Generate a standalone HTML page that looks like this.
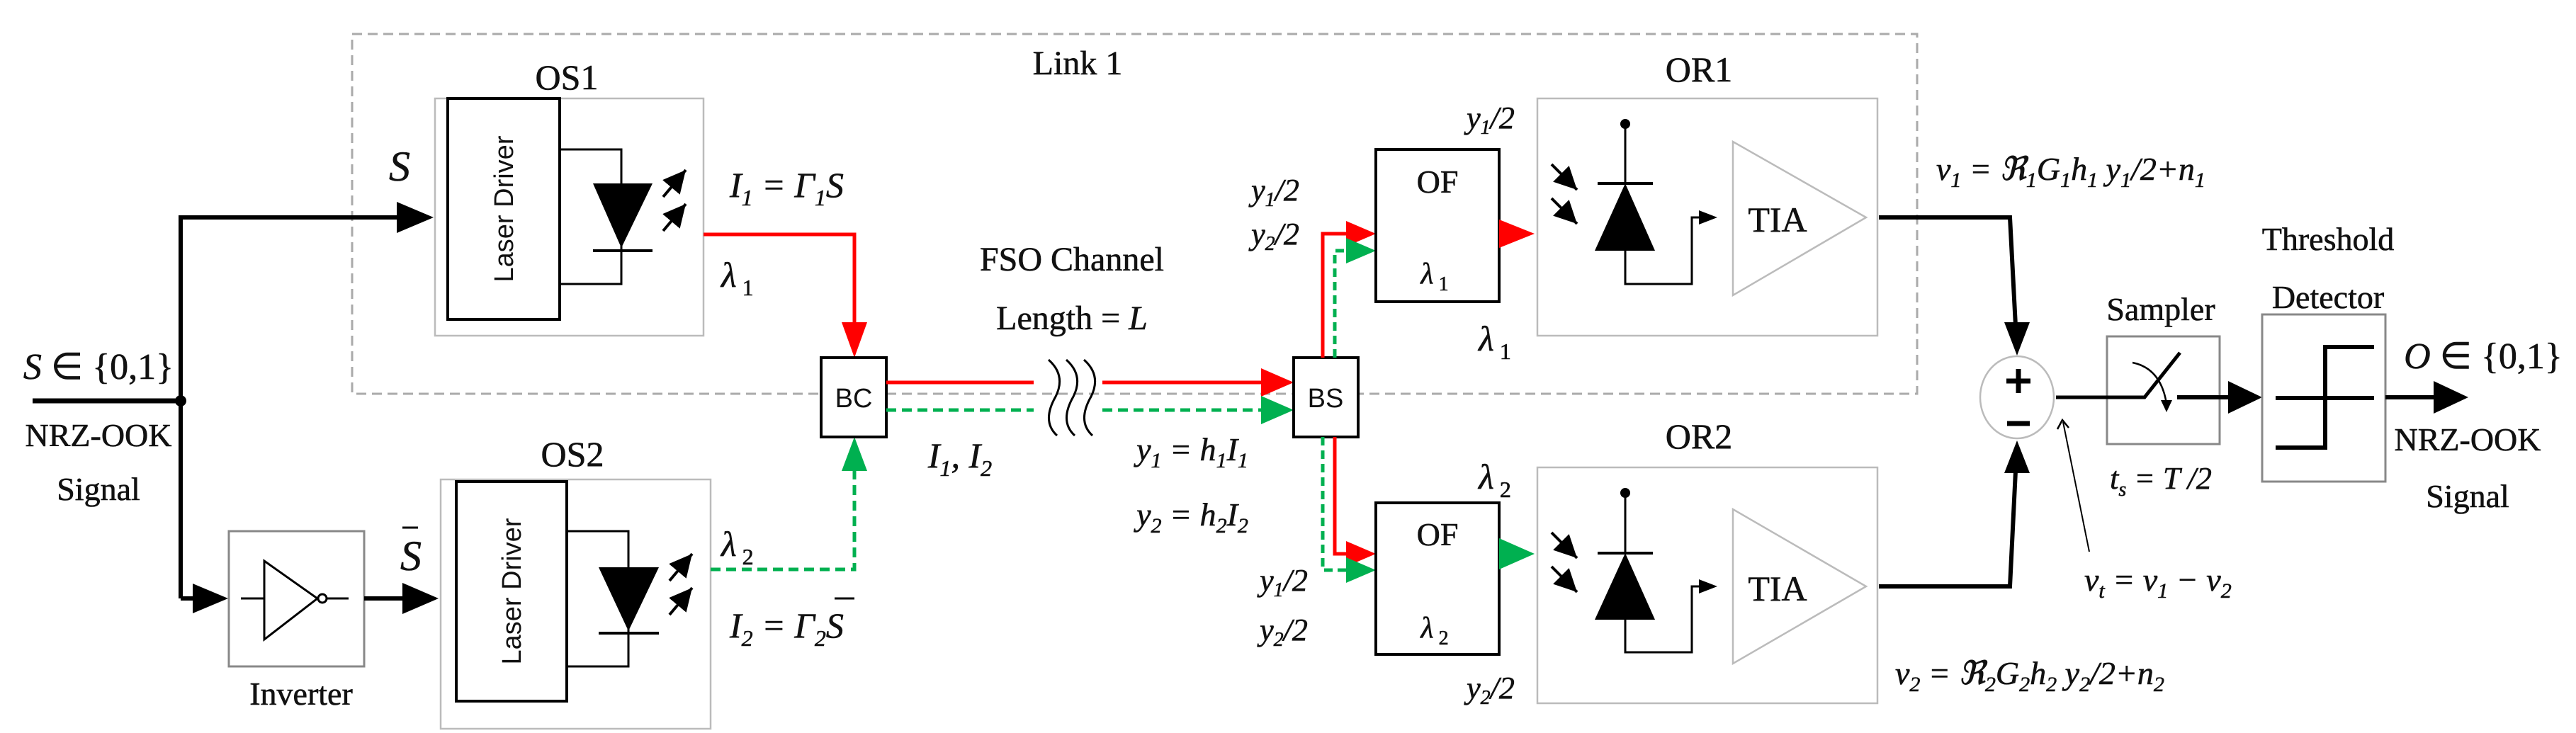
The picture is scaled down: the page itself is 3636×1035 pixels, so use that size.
<!DOCTYPE html>
<html><head><meta charset="utf-8"><style>
html,body{margin:0;padding:0;background:#fff}
svg{display:block}
text{font-family:"Liberation Serif",serif;fill:#111;stroke:#111;stroke-width:0.6}
.it{font-style:italic}
.sans{font-family:"Liberation Sans",sans-serif;stroke-width:0}
</style></head><body>
<svg width="3636" height="1035" viewBox="0 0 3636 1035" xmlns="http://www.w3.org/2000/svg">
<defs>
<marker id="ab" viewBox="0 0 10 10" refX="10" refY="5" markerWidth="8" markerHeight="8" markerUnits="strokeWidth" orient="auto"><path d="M0,0 L10,5 L0,10 z" fill="#000"/></marker>
</defs>

<rect x="497" y="48" width="2209" height="508" fill="none" stroke="#aaa" stroke-width="3" stroke-dasharray="14,8"/>
<text x="1521" y="105" font-size="48" text-anchor="middle">Link 1</text>

<text x="139" y="535" font-size="52" text-anchor="middle"><tspan class="it">S</tspan> ∈ {0,1}</text>
<text x="139" y="630" font-size="46" text-anchor="middle">NRZ-OOK</text>
<text x="139" y="706" font-size="46" text-anchor="middle">Signal</text>
<line x1="46" y1="566" x2="255" y2="566" stroke="#000" stroke-width="7"/>
<circle cx="255" cy="566" r="8" fill="#000"/>
<polyline points="255,845 255,307 565,307" fill="none" stroke="#000" stroke-width="6"/>
<polygon points="560,285 612,307 560,329" fill="#000"/>
<text x="564" y="255" font-size="60" class="it" text-anchor="middle">S</text>
<line x1="255" y1="845" x2="275" y2="845" stroke="#000" stroke-width="6"/>
<polygon points="272,824 322,845 272,866" fill="#000"/>

<rect x="323" y="750" width="191" height="191" fill="none" stroke="#888" stroke-width="3"/>
<line x1="340" y1="845" x2="373" y2="845" stroke="#000" stroke-width="3"/>
<polygon points="373,792 373,903 448,845" fill="none" stroke="#000" stroke-width="3"/>
<circle cx="455" cy="845" r="6" fill="none" stroke="#000" stroke-width="3"/>
<line x1="461" y1="845" x2="492" y2="845" stroke="#000" stroke-width="3"/>
<text x="425" y="995" font-size="46" text-anchor="middle">Inverter</text>
<line x1="514" y1="845" x2="572" y2="845" stroke="#000" stroke-width="6"/>
<polygon points="568,823 619,845 568,867" fill="#000"/>
<text x="580" y="805" font-size="60" class="it" text-anchor="middle">S</text>
<line x1="568" y1="745" x2="590" y2="745" stroke="#000" stroke-width="3"/>

<text x="800" y="126" font-size="50" text-anchor="middle">OS1</text>
<rect x="614" y="139" width="379" height="335" fill="none" stroke="#bbb" stroke-width="2.5"/>
<rect x="632" y="139" width="158" height="312" fill="none" stroke="#000" stroke-width="4"/>
<text class="sans" font-size="38" transform="translate(724,295) rotate(-90)" text-anchor="middle">Laser Driver</text>
<polyline points="790,211 877,211 877,401 790,401" fill="none" stroke="#000" stroke-width="3"/>
<polygon points="837,259 921,259 877,350" fill="#000"/>
<line x1="837" y1="354" x2="921" y2="354" stroke="#000" stroke-width="4"/>
<line x1="936" y1="278" x2="968" y2="240" stroke="#000" stroke-width="4" marker-end="url(#ab)"/>
<line x1="936" y1="326" x2="968" y2="288" stroke="#000" stroke-width="4" marker-end="url(#ab)"/>

<text x="808" y="658" font-size="50" text-anchor="middle">OS2</text>
<rect x="622" y="677" width="381" height="352" fill="none" stroke="#bbb" stroke-width="2.5"/>
<rect x="644" y="680" width="156" height="310" fill="none" stroke="#000" stroke-width="4"/>
<text class="sans" font-size="38" transform="translate(735,835) rotate(-90)" text-anchor="middle">Laser Driver</text>
<polyline points="800,750 887,750 887,941 800,941" fill="none" stroke="#000" stroke-width="3"/>
<polygon points="845,801 930,801 887,891" fill="#000"/>
<line x1="845" y1="894" x2="930" y2="894" stroke="#000" stroke-width="4"/>
<line x1="945" y1="820" x2="977" y2="782" stroke="#000" stroke-width="4" marker-end="url(#ab)"/>
<line x1="945" y1="868" x2="977" y2="830" stroke="#000" stroke-width="4" marker-end="url(#ab)"/>

<polyline points="993,331 1206,331 1206,460" fill="none" stroke="#f00" stroke-width="5"/>
<polygon points="1188,455 1224,455 1206,505" fill="#f00"/>
<text x="1030" y="278" font-size="50" class="it">I<tspan font-size="32" dy="12">1</tspan><tspan dy="-12"> = Γ</tspan><tspan font-size="32" dy="12">1</tspan><tspan dy="-12">S</tspan></text>
<text x="1018" y="405" font-size="50" class="it">λ<tspan font-size="32" dy="12" font-style="normal"> 1</tspan></text>

<polyline points="1003,804 1206,804 1206,660" fill="none" stroke="#00b050" stroke-width="5" stroke-dasharray="14,8"/>
<polygon points="1188,665 1224,665 1206,617" fill="#00b050"/>
<text x="1018" y="785" font-size="50" class="it">λ<tspan font-size="32" dy="12" font-style="normal"> 2</tspan></text>
<text x="1030" y="900" font-size="50" class="it">I<tspan font-size="32" dy="12">2</tspan><tspan dy="-12"> = Γ</tspan><tspan font-size="32" dy="12">2</tspan><tspan dy="-12">S</tspan></text>
<line x1="1178" y1="845" x2="1206" y2="845" stroke="#000" stroke-width="3"/>

<rect x="1159" y="505" width="92" height="112" fill="#fff" stroke="#000" stroke-width="4"/>
<text class="sans" x="1205" y="575" font-size="38" text-anchor="middle">BC</text>

<line x1="1251" y1="540" x2="1459" y2="540" stroke="#f00" stroke-width="5"/>
<line x1="1251" y1="579" x2="1459" y2="579" stroke="#00b050" stroke-width="5" stroke-dasharray="14,8"/>
<g fill="none" stroke="#000" stroke-width="3">
<path d="M1480,508 Q1505,530 1490,560 Q1470,595 1492,615"/>
<path d="M1505,508 Q1530,530 1515,560 Q1495,595 1517,615"/>
<path d="M1530,508 Q1555,530 1540,560 Q1520,595 1542,615"/>
</g>
<line x1="1556" y1="540" x2="1785" y2="540" stroke="#f00" stroke-width="5"/>
<polygon points="1780,520 1826,540 1780,560" fill="#f00"/>
<line x1="1556" y1="579" x2="1785" y2="579" stroke="#00b050" stroke-width="5" stroke-dasharray="14,8"/>
<polygon points="1780,559 1826,579 1780,599" fill="#00b050"/>
<text x="1513" y="382" font-size="48" text-anchor="middle">FSO Channel</text>
<text x="1513" y="465" font-size="48" text-anchor="middle">Length = <tspan class="it">L</tspan></text>
<text x="1355" y="660" font-size="50" class="it" text-anchor="middle">I<tspan font-size="32" dy="12">1</tspan><tspan dy="-12">, I</tspan><tspan font-size="32" dy="12">2</tspan></text>
<text x="1683" y="650" font-size="46" class="it" text-anchor="middle">y<tspan font-size="30" dy="10">1</tspan><tspan dy="-10"> = h</tspan><tspan font-size="30" dy="10">1</tspan><tspan dy="-10">I</tspan><tspan font-size="30" dy="10">1</tspan></text>
<text x="1683" y="742" font-size="46" class="it" text-anchor="middle">y<tspan font-size="30" dy="10">2</tspan><tspan dy="-10"> = h</tspan><tspan font-size="30" dy="10">2</tspan><tspan dy="-10">I</tspan><tspan font-size="30" dy="10">2</tspan></text>

<rect x="1826" y="505" width="91" height="112" fill="#fff" stroke="#000" stroke-width="4"/>
<text class="sans" x="1871" y="575" font-size="38" text-anchor="middle">BS</text>

<polyline points="1867,505 1867,330 1905,330" fill="none" stroke="#f00" stroke-width="5"/>
<polygon points="1900,312 1942,330 1900,348" fill="#f00"/>
<polyline points="1884,505 1884,354 1905,354" fill="none" stroke="#00b050" stroke-width="5" stroke-dasharray="12,7"/>
<polygon points="1900,336 1942,354 1900,372" fill="#00b050"/>
<polyline points="1884,617 1884,782 1905,782" fill="none" stroke="#f00" stroke-width="5"/>
<polygon points="1900,764 1942,782 1900,800" fill="#f00"/>
<polyline points="1867,617 1867,805 1905,805" fill="none" stroke="#00b050" stroke-width="5" stroke-dasharray="12,7"/>
<polygon points="1900,787 1942,805 1900,823" fill="#00b050"/>

<g font-size="44" class="it" text-anchor="middle">
<text x="1800" y="283">y<tspan font-size="28" dy="8">1</tspan><tspan dy="-8">/2</tspan></text>
<text x="1800" y="345">y<tspan font-size="28" dy="8">2</tspan><tspan dy="-8">/2</tspan></text>
<text x="2104" y="181">y<tspan font-size="28" dy="8">1</tspan><tspan dy="-8">/2</tspan></text>
<text x="1812" y="834">y<tspan font-size="28" dy="8">1</tspan><tspan dy="-8">/2</tspan></text>
<text x="1812" y="904">y<tspan font-size="28" dy="8">2</tspan><tspan dy="-8">/2</tspan></text>
<text x="2104" y="986">y<tspan font-size="28" dy="8">2</tspan><tspan dy="-8">/2</tspan></text>
</g>

<rect x="1942" y="211" width="174" height="215" fill="none" stroke="#000" stroke-width="4"/>
<text x="2029" y="272" font-size="46" text-anchor="middle">OF</text>
<text x="2025" y="400" font-size="42" class="it" text-anchor="middle">λ<tspan font-size="28" dy="10" font-style="normal"> 1</tspan></text>
<text x="2110" y="495" font-size="50" class="it" text-anchor="middle">λ<tspan font-size="32" dy="12" font-style="normal"> 1</tspan></text>
<polygon points="2116,310 2166,330 2116,350" fill="#f00"/>

<rect x="1942" y="710" width="174" height="214" fill="none" stroke="#000" stroke-width="4"/>
<text x="2029" y="770" font-size="46" text-anchor="middle">OF</text>
<text x="2025" y="900" font-size="42" class="it" text-anchor="middle">λ<tspan font-size="28" dy="10" font-style="normal"> 2</tspan></text>
<text x="2110" y="690" font-size="50" class="it" text-anchor="middle">λ<tspan font-size="32" dy="12" font-style="normal"> 2</tspan></text>
<polygon points="2116,760 2166,782 2116,804" fill="#00b050"/>

<text x="2398" y="115" font-size="50" text-anchor="middle">OR1</text>
<rect x="2170" y="139" width="480" height="335" fill="none" stroke="#bbb" stroke-width="2.5"/>
<circle cx="2294" cy="175" r="7" fill="#000"/>
<line x1="2294" y1="175" x2="2294" y2="259" stroke="#000" stroke-width="3"/>
<line x1="2255" y1="259" x2="2333" y2="259" stroke="#000" stroke-width="4"/>
<polygon points="2294,259 2251,354 2336,354" fill="#000"/>
<polyline points="2294,354 2294,401 2388,401 2388,307 2400,307" fill="none" stroke="#000" stroke-width="3"/>
<polygon points="2398,297 2424,307 2398,317" fill="#000"/>
<line x1="2190" y1="232" x2="2226" y2="268" stroke="#000" stroke-width="4" marker-end="url(#ab)"/>
<line x1="2190" y1="280" x2="2226" y2="316" stroke="#000" stroke-width="4" marker-end="url(#ab)"/>
<polygon points="2446,200 2446,417 2634,307" fill="none" stroke="#bbb" stroke-width="2.5"/>
<text x="2509" y="327" font-size="50" text-anchor="middle">TIA</text>

<text x="2398" y="633" font-size="50" text-anchor="middle">OR2</text>
<rect x="2170" y="660" width="480" height="333" fill="none" stroke="#bbb" stroke-width="2.5"/>
<circle cx="2294" cy="696" r="7" fill="#000"/>
<line x1="2294" y1="696" x2="2294" y2="781" stroke="#000" stroke-width="3"/>
<line x1="2255" y1="781" x2="2333" y2="781" stroke="#000" stroke-width="4"/>
<polygon points="2294,781 2251,875 2336,875" fill="#000"/>
<polyline points="2294,875 2294,921 2388,921 2388,828 2400,828" fill="none" stroke="#000" stroke-width="3"/>
<polygon points="2398,818 2424,828 2398,838" fill="#000"/>
<line x1="2190" y1="752" x2="2226" y2="788" stroke="#000" stroke-width="4" marker-end="url(#ab)"/>
<line x1="2190" y1="800" x2="2226" y2="836" stroke="#000" stroke-width="4" marker-end="url(#ab)"/>
<polygon points="2446,719 2446,937 2634,828" fill="none" stroke="#bbb" stroke-width="2.5"/>
<text x="2509" y="848" font-size="50" text-anchor="middle">TIA</text>

<polyline points="2652,307 2837,307 2845,460" fill="none" stroke="#000" stroke-width="6"/>
<polygon points="2829,455 2865,455 2847,502" fill="#000"/>
<polyline points="2652,828 2837,828 2845,665" fill="none" stroke="#000" stroke-width="6"/>
<polygon points="2829,668 2865,668 2847,622" fill="#000"/>
<ellipse cx="2847" cy="561" rx="52" ry="58" fill="#fff" stroke="#bbb" stroke-width="2.5"/>
<line x1="2832" y1="538" x2="2866" y2="538" stroke="#000" stroke-width="7"/>
<line x1="2849" y1="521" x2="2849" y2="555" stroke="#000" stroke-width="7"/>
<line x1="2833" y1="598" x2="2865" y2="598" stroke="#000" stroke-width="7"/>

<text x="2733" y="254" font-size="46" class="it">v<tspan font-size="30" dy="10">1</tspan><tspan dy="-10"> = ℜ</tspan><tspan font-size="30" dy="10">1</tspan><tspan dy="-10">G</tspan><tspan font-size="30" dy="10">1</tspan><tspan dy="-10">h</tspan><tspan font-size="30" dy="10">1</tspan><tspan dy="-10"> y</tspan><tspan font-size="30" dy="10">1</tspan><tspan dy="-10">/2+n</tspan><tspan font-size="30" dy="10">1</tspan></text>
<text x="2675" y="966" font-size="46" class="it">v<tspan font-size="30" dy="10">2</tspan><tspan dy="-10"> = ℜ</tspan><tspan font-size="30" dy="10">2</tspan><tspan dy="-10">G</tspan><tspan font-size="30" dy="10">2</tspan><tspan dy="-10">h</tspan><tspan font-size="30" dy="10">2</tspan><tspan dy="-10"> y</tspan><tspan font-size="30" dy="10">2</tspan><tspan dy="-10">/2+n</tspan><tspan font-size="30" dy="10">2</tspan></text>
<text x="2942" y="834" font-size="46" class="it">v<tspan font-size="30" dy="10">t</tspan><tspan dy="-10"> = v</tspan><tspan font-size="30" dy="10">1</tspan><tspan dy="-10"> − v</tspan><tspan font-size="30" dy="10">2</tspan></text>
<line x1="2949" y1="779" x2="2912" y2="596" stroke="#000" stroke-width="2"/>
<polyline points="2904,606 2911,593 2920,604" fill="none" stroke="#000" stroke-width="2.5"/>

<text x="3050" y="452" font-size="46" text-anchor="middle">Sampler</text>
<rect x="2974" y="475" width="159" height="152" fill="none" stroke="#888" stroke-width="3"/>
<polyline points="2902,561 3027,561 3077,498" fill="none" stroke="#000" stroke-width="5"/>
<path d="M3010,512 Q3050,520 3058,570" fill="none" stroke="#000" stroke-width="2.5"/>
<polygon points="3050,565 3066,565 3058,582" fill="#000"/>
<line x1="3073" y1="561" x2="3150" y2="561" stroke="#000" stroke-width="6"/>
<polygon points="3145,538 3193,561 3145,584" fill="#000"/>
<text x="3050" y="690" font-size="44" class="it" text-anchor="middle">t<tspan font-size="28" dy="10">s</tspan><tspan dy="-10"> = T /2</tspan></text>

<text x="3286" y="353" font-size="46" text-anchor="middle">Threshold</text>
<text x="3286" y="435" font-size="46" text-anchor="middle">Detector</text>
<rect x="3193" y="444" width="174" height="236" fill="none" stroke="#888" stroke-width="3"/>
<line x1="3212" y1="562" x2="3351" y2="562" stroke="#000" stroke-width="6"/>
<polyline points="3212,632 3282,632 3282,490 3351,490" fill="none" stroke="#000" stroke-width="6"/>
<line x1="3367" y1="561" x2="3440" y2="561" stroke="#000" stroke-width="6"/>
<polygon points="3435,538 3484,561 3435,584" fill="#000"/>
<text x="3505" y="520" font-size="52" text-anchor="middle"><tspan class="it">O</tspan> ∈ {0,1}</text>
<text x="3483" y="636" font-size="46" text-anchor="middle">NRZ-OOK</text>
<text x="3483" y="716" font-size="46" text-anchor="middle">Signal</text>
</svg>
</body></html>
